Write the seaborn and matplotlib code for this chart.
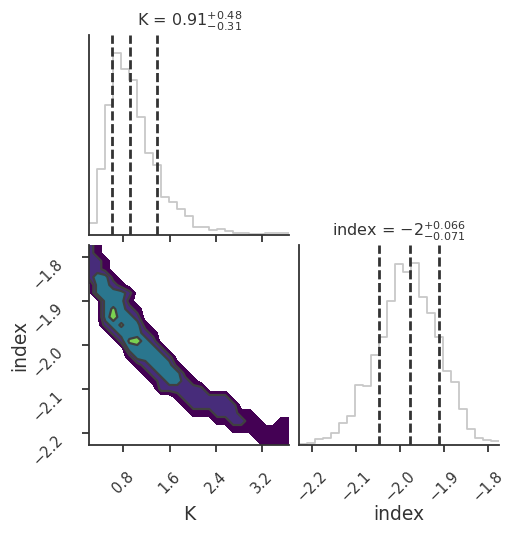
import numpy as np
import pandas as pd
import matplotlib
matplotlib.use("Agg")
import matplotlib.pyplot as plt
import seaborn as sns

# ---------------- data ----------------
k_range = [0.213, 3.666]
index_range = [-2.2282, -1.7736]

k_counts = [35, 200, 390, 547, 500, 465, 355, 247, 210, 115, 100, 77, 57,
            25, 25, 15, 17, 13, 7, 5, 2, 2, 5, 5, 5]
index_counts = [3, 7, 17, 20, 35, 67, 87, 182, 179, 270, 327, 435, 545,
                522, 548, 447, 397, 325, 223, 190, 109, 47, 21, 15, 11]

k_quantiles = [0.60, 0.91, 1.39]
index_quantiles = [-2.048, -1.977, -1.911]

k_ticks = [0.8, 1.6, 2.4, 3.2]
index_ticks = [-2.2, -2.1, -2.0, -1.9, -1.8]

k_title = r"K = $0.91^{+0.48}_{-0.31}$"
index_title = r"index = $-2^{+0.066}_{-0.071}$"
k_label = "K"
index_label = "index"

# 2D density level grid (rows from top = high index, columns from low K)
density_rows = [
    "42",
    "42",
    "442",
    "442",
    "4662",
    "06642",
    "066664",
    "0066620",
    "00686420",
    "00696640",
    "004686620",
    "0004666420",
    "0000489640",
    "00000666640",
    "000002666640",
    "000000246662",
    "0000000246662",
    "00000000246642",
    "000000000444444",
    "00000000000244444400000000",
    "00000000000024444440000000",
    "00000000000002224442200000",
    "00000000000000002244220022",
    "00000000000000000022222222",
    "00000000000000000000022222",
    "00000000000000000000002222",
]
density_levels = [1, 3, 5, 7.5, 10]
line_levels = [3, 5, 7.5]
level_colors = ["#440154", "#472c7a", "#2a768e", "#7ad151"]

# ---------------- style ----------------
sns.set_theme(style="ticks")
plt.rcParams["font.family"] = ["DejaVu Sans"]
text_color = "#333333"
plt.rcParams.update({
    "axes.edgecolor": text_color,
    "axes.labelcolor": text_color,
    "text.color": text_color,
    "xtick.color": text_color,
    "ytick.color": text_color,
    "axes.linewidth": 1.3,
})
tick_size = 10.5
label_size = 13.5
title_size = 11.5
tick_pad = 12

W, H = 516, 534
fig = plt.figure(figsize=(W / 100, H / 100), dpi=100)
pw, ph = 200 / W, 200 / H
ax_k = fig.add_axes([89.3 / W, (H - 235) / H, pw, ph])
ax_2d = fig.add_axes([89.3 / W, (H - 445) / H, pw, ph])
ax_i = fig.add_axes([299.3 / W, (H - 445) / H, pw, ph])

hist_color = "#c8c8c8"
q_color = "#333333"
q_dashes = (3.3, 1.3)


def fmt(t):
    return f"{t:.1f}".replace("-", "\u2212")


# ---- K histogram ----
k_edges = np.linspace(k_range[0], k_range[1], len(k_counts) + 1)
k_df = pd.DataFrame({"K": 0.5 * (k_edges[:-1] + k_edges[1:]), "n": k_counts})
sns.histplot(data=k_df, x="K", weights="n", bins=len(k_counts),
             binrange=tuple(k_range), element="step", fill=False,
             color=hist_color, linewidth=1.3, ax=ax_k)
for q in k_quantiles:
    ax_k.axvline(q, color=q_color, lw=2.0, dashes=q_dashes)
ax_k.set_xlim(k_range)
ax_k.set_ylim(0, 1.1 * max(k_counts))
ax_k.set_yticks([])
ax_k.set_xticks(k_ticks)
ax_k.set_xticklabels([])
ax_k.set_ylabel("")
ax_k.set_xlabel("")
ax_k.set_title(k_title, fontsize=title_size, color=text_color)

# ---- index histogram ----
i_edges = np.linspace(index_range[0], index_range[1], len(index_counts) + 1)
i_df = pd.DataFrame({"index": 0.5 * (i_edges[:-1] + i_edges[1:]), "n": index_counts})
sns.histplot(data=i_df, x="index", weights="n", bins=len(index_counts),
             binrange=tuple(index_range), element="step", fill=False,
             color=hist_color, linewidth=1.3, ax=ax_i)
for q in index_quantiles:
    ax_i.axvline(q, color=q_color, lw=2.0, dashes=q_dashes)
ax_i.set_xlim(index_range)
ax_i.set_ylim(0, 1.1 * max(index_counts))
ax_i.set_yticks([])
ax_i.set_xticks(index_ticks)
ax_i.set_xticklabels([fmt(t) for t in index_ticks], rotation=45, fontsize=tick_size)
ax_i.set_ylabel("")
ax_i.set_xlabel(index_label, fontsize=label_size)
ax_i.xaxis.set_label_coords(0.5, -0.3)
ax_i.set_title(index_title, fontsize=title_size, color=text_color)

# ---- 2D density ----
ncol = 26
Z = np.array([[int(c) for c in row.ljust(ncol, "0")] for row in density_rows],
             dtype=float)
xk = np.linspace(k_range[0], k_range[1], ncol)
yi = np.linspace(index_range[1], index_range[0], len(density_rows))
Z = Z[::-1]
yi = yi[::-1]
ax_2d.contourf(xk, yi, Z, levels=density_levels, colors=level_colors)
ax_2d.contour(xk, yi, Z, levels=line_levels, colors="#404040", linewidths=1.6)
ax_2d.set_xlim(k_range)
ax_2d.set_ylim(index_range)
ax_2d.set_xticks(k_ticks)
ax_2d.set_xticklabels([fmt(t) for t in k_ticks], rotation=45, fontsize=tick_size)
ax_2d.set_yticks(index_ticks)
ax_2d.set_yticklabels([fmt(t) for t in index_ticks], rotation=45,
                      fontsize=tick_size, va="top")
ax_2d.set_xlabel(k_label, fontsize=label_size)
ax_2d.set_ylabel(index_label, fontsize=label_size)
ax_2d.xaxis.set_label_coords(0.5, -0.3)
ax_2d.yaxis.set_label_coords(-0.3, 0.5)

for ax in (ax_k, ax_2d, ax_i):
    sns.despine(ax=ax)
    ax.tick_params(length=5, width=1.3, colors=text_color,
                   labelcolor=text_color, pad=tick_pad)

fig.savefig("out.png", dpi=100)
